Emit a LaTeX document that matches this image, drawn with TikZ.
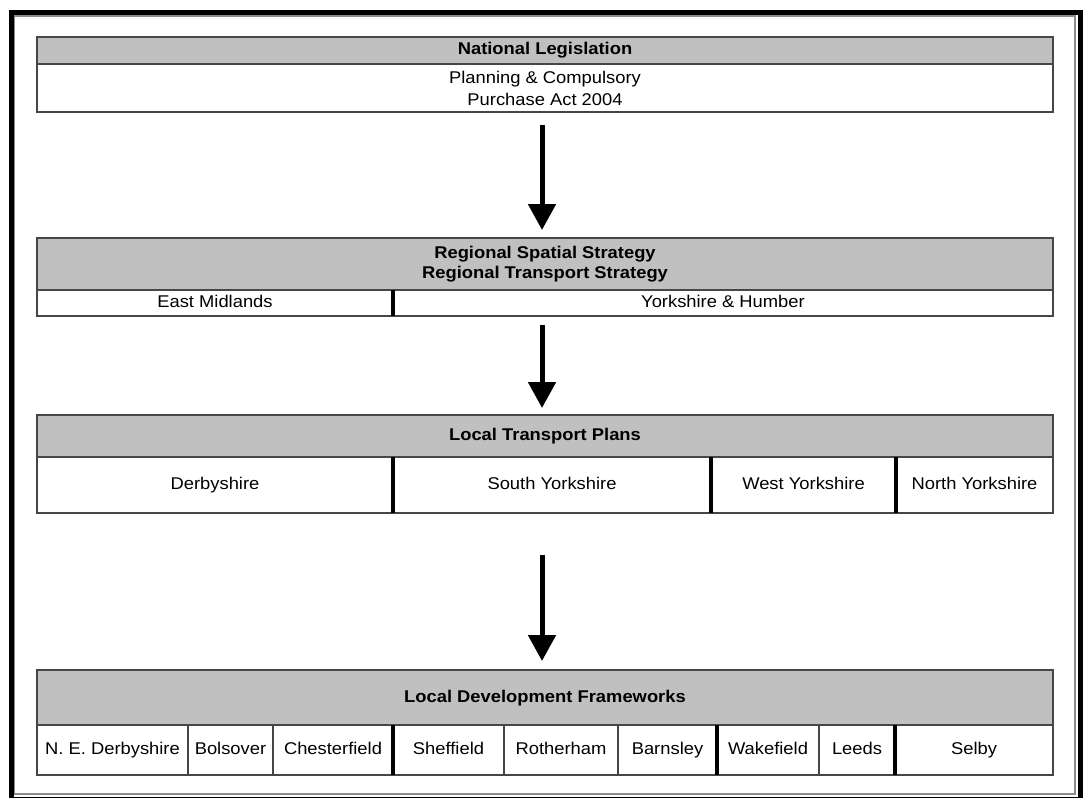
\documentclass[tikz,border=0pt]{standalone}
\usepackage{fontspec}
\setmainfont{Liberation Sans}[FakeStretch=1.08]
\usetikzlibrary{arrows.meta}
\definecolor{hdrgray}{RGB}{192,192,192}
\definecolor{edgegray}{RGB}{70,70,70}
\begin{document}
\begin{tikzpicture}[x=1pt,y=-1pt,
  every node/.style={inner sep=0pt,outer sep=0pt,font=\fontsize{17}{22}\selectfont},
  hdr/.style={draw=edgegray,fill=hdrgray,line width=1.5pt,font=\fontsize{17}{20}\selectfont\bfseries,align=center},
  cell/.style={draw=edgegray,fill=white,line width=1.2pt,align=center},
  one/.style={text height=12.5pt,text depth=3.5pt},
  divider/.style={line width=3.5pt,black},
  arr/.style={line width=5pt,-{Triangle[width=27pt,length=26pt]}}]
\useasboundingbox (0,0) rectangle (1083,797);
% window frame
\draw[line width=5pt,black] (11.5,12.5) rectangle (1080.5,799.5);
\draw[line width=1.2pt,black!45] (14.5,16) rectangle (1075,794);

% Box 1
\node[hdr,one,minimum width=1016pt,minimum height=27pt] (h1) at (545,50.5) {National Legislation};
\node[cell,minimum width=1016pt,minimum height=48pt] (b1) at (545,88) {Planning \& Compulsory\\Purchase Act 2004};

% Box 2
\node[hdr,minimum width=1016pt,minimum height=52pt] (h2) at (545,264) {Regional Spatial Strategy\\Regional Transport Strategy};
\node[cell,one,minimum width=356pt,minimum height=26pt] (em) at (215,303) {East Midlands};
\node[cell,one,minimum width=660pt,minimum height=26pt] (yh) at (723,303) {Yorkshire \& Humber};
\draw[divider] (em.north east) -- (em.south east);

% Box 3
\node[hdr,one,minimum width=1016pt,minimum height=42pt] (h3) at (545,436) {Local Transport Plans};
\node[cell,one,minimum width=356pt,minimum height=56pt] (der) at (215,485) {Derbyshire};
\node[cell,one,minimum width=318pt,minimum height=56pt] (sy) at (552,485) {South Yorkshire};
\node[cell,one,minimum width=185pt,minimum height=56pt] (wy) at (803.5,485) {West Yorkshire};
\node[cell,one,minimum width=157pt,minimum height=56pt] (ny) at (974.5,485) {North Yorkshire};
\draw[divider] (der.north east) -- (der.south east);
\draw[divider] (sy.north east) -- (sy.south east);
\draw[divider] (wy.north east) -- (wy.south east);

% Box 4
\node[hdr,one,minimum width=1016pt,minimum height=55pt] (h4) at (545,697.5) {Local Development Frameworks};
\node[cell,one,minimum width=151pt,minimum height=50pt] (ned) at (112.5,750) {N. E. Derbyshire};
\node[cell,one,minimum width=85pt,minimum height=50pt] (bol) at (230.5,750) {Bolsover};
\node[cell,one,minimum width=120pt,minimum height=50pt] (che) at (333,750) {Chesterfield};
\node[cell,one,minimum width=111pt,minimum height=50pt] (she) at (448.5,750) {Sheffield};
\node[cell,one,minimum width=114pt,minimum height=50pt] (rot) at (561,750) {Rotherham};
\node[cell,one,minimum width=99pt,minimum height=50pt] (bar) at (667.5,750) {Barnsley};
\node[cell,one,minimum width=102pt,minimum height=50pt] (wak) at (768,750) {Wakefield};
\node[cell,one,minimum width=76pt,minimum height=50pt] (lee) at (857,750) {Leeds};
\node[cell,one,minimum width=158pt,minimum height=50pt] (sel) at (974,750) {Selby};
\draw[divider] (che.north east) -- (che.south east);
\draw[divider] (bar.north east) -- (bar.south east);
\draw[divider] (lee.north east) -- (lee.south east);

% Arrows
\draw[arr,shorten <=13pt,shorten >=8pt] ([xshift=-3pt]b1.south) -- ([xshift=-3pt]h2.north);
\draw[arr,shorten <=9pt,shorten >=7pt] ([xshift=-3pt]h2.south |- yh.south) -- ([xshift=-3pt]h3.north);
\draw[arr,shorten <=42pt,shorten >=9pt] ([xshift=-3pt]h3.south |- sy.south) -- ([xshift=-3pt]h4.north);
\end{tikzpicture}
\end{document}
